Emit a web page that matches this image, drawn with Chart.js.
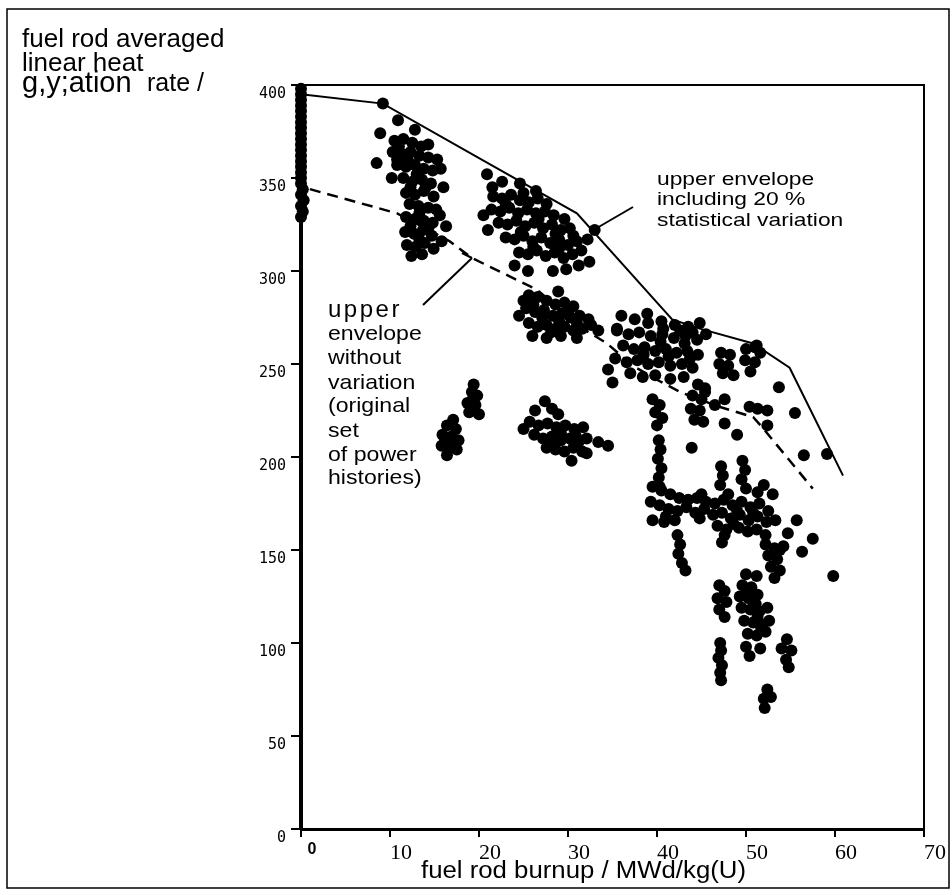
<!DOCTYPE html>
<html>
<head>
<meta charset="utf-8">
<script src="https://cdn.jsdelivr.net/npm/chart.js@4.4.1/dist/chart.umd.min.js"></script>
<style>
  html, body { margin: 0; padding: 0; background: #fff; }
  #wrap { width: 952px; height: 895px; position: relative; }
</style>
</head>
<body>
<div id="wrap"><canvas id="burnupChart"></canvas></div>
<script>
// axis ticks
const X_TICKS = [0, 10, 20, 30, 40, 50, 60, 70];
const Y_TICKS = [0, 50, 100, 150, 200, 250, 300, 350, 400];

// envelopes [burnup, linear heat generation rate]
const envelopeWithVariation = [[0, 395], [9.2, 390], [21, 358], [31, 331], [41.7, 274], [44.8, 269], [50.8, 261], [54.9, 248], [60.9, 190]];
const envelopeOriginal = [[1, 344], [10.8, 331], [16.7, 316], [19.2, 307], [26.5, 290], [32, 268], [34.4, 261], [37.3, 249], [40.2, 241], [42.8, 234.5], [47, 227], [50.8, 221.5], [52, 215], [57.5, 183]];

// rod power histories
const rodsFresh = [[0, 398], [0, 395], [0, 392], [0, 389], [0, 386], [0, 383], [0, 380], [0, 377], [0, 374], [0, 371], [0, 368], [0, 365], [0, 362], [0, 359], [0, 356], [0, 353], [0, 350], [0, 347], [0.2, 344], [0, 341], [0.3, 338], [0, 335], [0.2, 332], [0, 329]];

const rodsFirstCycle = [[9.2, 390], [10.9, 381], [12.8, 376], [8.9, 374], [8.5, 358], [10.2, 350],
  [10.5, 370], [11.5, 371], [12.5, 369], [13.5, 367], [14.3, 368], [10.3, 364], [11.3, 363], [12.3, 364], [13.3, 362], [14.3, 361],
  [10.8, 357], [11.8, 356], [12.8, 357], [13.8, 355], [14.8, 354], [11.5, 350], [12.5, 348], [13.6, 349], [14.6, 347],
  [11.8, 342], [12.8, 341], [13.8, 343], [14.9, 340], [12.2, 336], [13.2, 335], [14.3, 334], [15.2, 333],
  [11.8, 329], [12.8, 328], [13.8, 327], [14.8, 326], [11.7, 321], [12.7, 320], [13.7, 322], [14.7, 319],
  [11.9, 314], [12.9, 313], [13.9, 315], [14.9, 312], [12.4, 308], [13.6, 309], [15.8, 316], [16.3, 324], [15.6, 330], [16, 345], [15.7, 355],
  [11, 367], [12, 360], [13, 352], [14, 345], [12.3, 345], [13.3, 331], [12.3, 324], [13.3, 317], [14.3, 323], [10.8, 360], [15.3, 360]];

const rodsSecondCycle = [[20.9, 352], [22.6, 348], [24.6, 347], [26.4, 343], [21.5, 345],
  [21.6, 340], [22.6, 339], [23.6, 341], [24.6, 338], [25.6, 337], [26.6, 339],
  [21.4, 333], [22.4, 332], [23.4, 334], [24.4, 331], [25.4, 333], [26.4, 331], [27.4, 332], [28.4, 330],
  [22.2, 326], [23.2, 325], [24.2, 327], [25.2, 324], [26.2, 326], [27.2, 323], [28.2, 325], [29.2, 322], [30.2, 323],
  [23, 318], [24, 317], [25, 319], [26, 316], [27, 318], [28, 315], [29, 317], [30, 314], [31, 316],
  [24.5, 310], [25.5, 309], [26.5, 311], [27.5, 308], [28.5, 310], [29.5, 307], [30.5, 309], [31.5, 311],
  [24, 303], [25.5, 300], [28.3, 300], [29.8, 301], [31.2, 303], [32.4, 305], [20.5, 330], [21, 322], [32.2, 317], [33, 322],
  [23, 336], [25, 342], [27.6, 336], [29.6, 328], [26.7, 328], [24.7, 321], [28.6, 320], [30.6, 319], [26.1, 313], [29, 312]];

const rodsSecondCycleLow = [[28.9, 289], [25.6, 287], [26.6, 286], [27.6, 284], [28.6, 282], [29.6, 283], [30.6, 281],
  [25.3, 280], [26.3, 278], [27.3, 279], [28.3, 276], [29.3, 277], [30.3, 275], [31.3, 276], [32.3, 274],
  [25.6, 272], [26.6, 270], [27.6, 271], [28.6, 269], [29.6, 270], [30.6, 268], [31.6, 269], [32.6, 271], [33.4, 268],
  [26, 265], [27.6, 264], [29.2, 265], [31, 264], [24.5, 276], [25, 284],
  [27.1, 275], [29, 273], [31, 272], [26.1, 282], [30.1, 279], [28.1, 267]];

const rodsPeripheralA = [[19.4, 239], [19.2, 235], [19.8, 233], [18.7, 229], [19.6, 228], [18.9, 224], [20, 223],
  [17.1, 220], [16.4, 217], [17.4, 215], [15.9, 212], [16.9, 211], [17.7, 209], [15.8, 206], [16.6, 205], [17.5, 204], [16.4, 201],
  [16.2, 209], [17, 208], [19.3, 231]];

const rodsPeripheralB = [[27.4, 230], [26.3, 225], [28.2, 226], [28.9, 223], [25.7, 219], [26.7, 217], [27.7, 218], [28.7, 216],
  [29.7, 217], [30.7, 215], [31.7, 216], [26.2, 212], [27.2, 210], [28.2, 211], [29.2, 209], [30.2, 210], [31.2, 208], [32.1, 210],
  [27.6, 205], [28.6, 204], [29.6, 203], [30.6, 205], [31.6, 203], [33.4, 208], [34.5, 206], [30.4, 198], [32.1, 202], [25, 215],
  [29.2, 213], [30.9, 211], [28.2, 207]];

const rodsThirdCycle = [[36, 276], [37.5, 274], [39, 272], [40.5, 273], [42, 271], [43.5, 270], [44.8, 272],
  [35.5, 268], [36.8, 266], [38, 267], [39.3, 265], [40.6, 266], [41.9, 264], [43.2, 265], [44.5, 263], [45.5, 266],
  [36.2, 260], [37.4, 258], [38.6, 259], [39.8, 257], [41, 258], [42.2, 256], [43.4, 257], [44.6, 255],
  [35.3, 253], [36.6, 251], [37.8, 252], [39, 250], [40.2, 251], [41.5, 249], [42.8, 250], [44, 248],
  [37, 245], [38.4, 243], [39.8, 244], [41.5, 242], [43, 243], [35, 240], [34.5, 247], [38.9, 277], [35.5, 269],
  [40.7, 269], [42.6, 268], [44, 267], [40.4, 262], [43.1, 261], [41.3, 254], [43.7, 253], [38.5, 255]];

const rodsThirdCycleHigh = [[47.2, 256], [48.2, 255], [47, 250], [48, 249], [47.4, 245], [48.6, 244],
  [50, 258], [51, 259], [51.6, 256], [49.9, 252], [51, 251], [50.5, 246], [51.2, 260],
  [44.6, 239], [45.4, 237], [44, 233], [45, 231], [43.8, 226], [44.8, 225], [44.2, 220], [45.2, 219],
  [47.6, 231], [50.4, 227], [51.3, 226], [52.4, 225], [52.4, 217], [47.6, 218], [49, 212], [53.7, 237.5],
  [55.5, 223.6], [56.5, 201], [59.1, 201.6], [45.4, 235], [43.9, 205], [46.5, 228],
  [39.5, 231], [40.3, 228], [39.8, 224], [40.6, 221], [40, 217],
  [40.2, 209], [40.4, 204], [40.1, 199], [40.5, 194], [40.2, 189], [40.3, 184]];

const rodsFourthCycle = [[39.5, 184], [40.5, 182], [41.5, 180], [42.5, 178], [43.5, 177], [44.5, 178], [45.5, 176], [46.5, 175],
  [47.5, 177], [48.5, 174], [49.5, 176], [50.5, 173], [51.5, 175], [52.5, 171],
  [39.3, 176], [40.3, 174], [41.3, 172], [42.3, 171], [43.3, 173], [44.3, 170], [45.3, 172], [46.3, 169], [47.3, 170],
  [48.3, 167], [49.3, 169], [50.3, 166], [51.3, 168], [52.3, 165], [53.3, 166],
  [39.5, 166], [40.8, 165], [42, 166], [46.8, 163], [47.8, 161], [49.2, 162], [50.2, 160], [51.2, 161], [52.2, 158],
  [47.2, 195], [47.4, 190], [47.1, 185], [47.6, 158], [47.3, 154], [49.6, 198], [49.9, 193], [49.5, 188], [50, 183],
  [42.3, 158], [42.6, 153], [42.4, 148], [42.8, 143], [43.2, 139],
  [55.7, 166], [54.7, 159], [57.5, 156], [56.3, 149], [54.2, 152], [59.8, 136], [51.3, 181], [53, 180], [52, 185], [53.8, 150],
  [45, 180], [48, 180], [49, 171], [44.8, 167], [50.8, 170], [41, 168], [48.6, 164]];

const rodsDischarge = [[52.2, 153], [53.2, 151], [52.5, 147], [53.5, 145], [52.8, 141], [53.8, 139], [53.2, 135],
  [50, 137], [51.2, 136], [49.6, 131], [50.6, 130], [49.3, 125], [50.3, 124], [51.3, 126], [49.5, 119], [50.5, 118],
  [51.5, 117], [52.4, 119], [49.8, 112], [50.8, 111], [51.8, 110], [52.6, 112], [50.2, 105], [51.2, 104], [52.2, 106],
  [50, 98], [51.6, 97], [50.4, 93],
  [47, 131], [47.6, 128], [46.8, 124], [47.8, 122], [47, 118], [47.6, 114],
  [47.1, 100], [47.2, 96], [46.9, 92], [47.3, 88], [47.1, 84], [47.2, 80],
  [54.6, 102], [54, 97], [55.1, 96], [54.5, 91], [54.8, 87],
  [52.4, 75], [52, 70], [52.8, 71], [52.1, 65],
  [50.1, 128], [51.1, 121], [51.3, 114], [51.7, 108]];

const allRods = [].concat(rodsFresh, rodsFirstCycle, rodsSecondCycle, rodsSecondCycleLow, rodsPeripheralA,
  rodsPeripheralB, rodsThirdCycle, rodsThirdCycleHigh, rodsFourthCycle, rodsDischarge);

function toXY(pairs) {
    return pairs.map(p => ({ x: p[0], y: p[1] }));
}

// text helper: the scan is a bit stretched sideways
function paperText(ctx, str, x, y, size, sx, spacing) {
    ctx.save();
    ctx.translate(x, y);
    ctx.scale(sx, 1);
    ctx.font = size + 'px "Liberation Sans", Arial, sans-serif';
    ctx.letterSpacing = (spacing || 0) + 'px';
    ctx.fillStyle = '#000';
    ctx.textAlign = 'left';
    ctx.textBaseline = 'alphabetic';
    ctx.fillText(str, 0, 0);
    ctx.restore();
}

function line(ctx, x1, y1, x2, y2, w) {
    ctx.beginPath();
    ctx.lineWidth = w;
    ctx.moveTo(x1, y1);
    ctx.lineTo(x2, y2);
    ctx.stroke();
}

const paperPlugin = {
    id: 'paperPlugin',
    beforeDraw(chart) {
        const ctx = chart.ctx;
        ctx.save();
        ctx.fillStyle = '#fff';
        ctx.fillRect(0, 0, chart.width, chart.height);
        ctx.restore();
    },
    afterDraw(chart) {
        const ctx = chart.ctx;
        const a = chart.chartArea;
        ctx.save();
        ctx.strokeStyle = '#000';

        // outer figure frame
        ctx.lineWidth = 1.5;
        ctx.strokeRect(7, 9, 942, 879);

        // top and right of the plot box
        line(ctx, a.left, a.top, a.right + 1, a.top, 2);
        line(ctx, a.right, a.top, a.right, a.bottom, 2);

        // y axis caption
        paperText(ctx, 'fuel rod averaged', 22, 47, 26, 1);
        paperText(ctx, 'linear heat', 22, 71, 26, 1);
        paperText(ctx, 'g,y;ation', 22, 92, 29, 1);
        paperText(ctx, 'rate /', 147, 91, 25, 1);

        // x axis caption
        paperText(ctx, 'fuel rod burnup / MWd/kg(U)', 421, 878, 23, 1.12);

        // envelope labels
        paperText(ctx, 'upper envelope', 657, 185, 19, 1.2);
        paperText(ctx, 'including 20 %', 657, 205, 19, 1.2);
        paperText(ctx, 'statistical variation', 657, 226, 19, 1.2);
        line(ctx, 633, 207, 590, 232, 2);

        paperText(ctx, 'upper', 328, 317, 24, 1, 2.5);
        const leftLines = ['envelope', 'without', 'variation', '(original', 'set', 'of power', 'histories)'];
        const leftBase = [340, 364, 389, 412, 437, 461, 484];
        leftLines.forEach((t, i) => paperText(ctx, t, 328, leftBase[i], 21, 1.1));
        line(ctx, 423, 305, 472, 258, 2);
        line(ctx, 472, 258, 462, 253, 2);

        ctx.restore();
    }
};

const config = {
    type: 'scatter',
    data: {
        datasets: [
            {
                label: 'power histories',
                data: toXY(allRods),
                backgroundColor: '#000',
                borderWidth: 0,
                pointRadius: 6,
                pointHoverRadius: 6,
                clip: false,
            },
            {
                label: 'upper envelope including 20 % statistical variation',
                data: toXY(envelopeWithVariation),
                showLine: true,
                borderColor: '#000',
                borderWidth: 2,
                pointRadius: 0,
                tension: 0,
            },
            {
                label: 'upper envelope without variation',
                data: toXY(envelopeOriginal),
                showLine: true,
                borderColor: '#000',
                borderWidth: 2.5,
                borderDash: [11, 7],
                pointRadius: 0,
                tension: 0,
            }
        ]
    },
    options: {
        responsive: true,
        maintainAspectRatio: false,
        animation: false,
        events: [],
        layout: { padding: { left: 0, right: 28, top: 85, bottom: 0 } },
        plugins: {
            legend: { display: false },
            tooltip: { enabled: false },
        },
        scales: {
            x: {
                type: 'linear',
                min: 0,
                max: 70,
                afterBuildTicks: (s) => { s.ticks = X_TICKS.map(v => ({ value: v })); },
                afterFit: (s) => { s.height = 66; },
                border: { display: true, color: '#000', width: 3 },
                grid: { display: true, drawOnChartArea: false, drawTicks: true, tickLength: 8, color: '#000', lineWidth: 2 },
                ticks: {
                    color: '#000',
                    padding: 3,
                    labelOffset: 11,
                    maxRotation: 0,
                    autoSkip: false,
                    font: (c) => (c.tick && c.tick.value === 0)
                        ? { family: '"Liberation Sans", Arial, sans-serif', size: 16, weight: 'bold' }
                        : { family: '"Liberation Serif", "Times New Roman", serif', size: 22 },
                },
            },
            y: {
                type: 'linear',
                min: 0,
                max: 400,
                afterBuildTicks: (s) => { s.ticks = Y_TICKS.map(v => ({ value: v })); },
                afterFit: (s) => { s.width = 301; },
                border: { display: true, color: '#000', width: 4 },
                grid: { display: true, drawOnChartArea: false, drawTicks: true, tickLength: 10, color: '#000', lineWidth: 2 },
                ticks: {
                    color: '#000',
                    padding: 5,
                    labelOffset: 9,
                    autoSkip: false,
                    font: { family: '"DejaVu Sans Mono", monospace', size: 15 },
                },
            }
        }
    },
    plugins: [paperPlugin]
};

const burnupChart = new Chart(document.getElementById('burnupChart'), config);
</script>
</body>
</html>
